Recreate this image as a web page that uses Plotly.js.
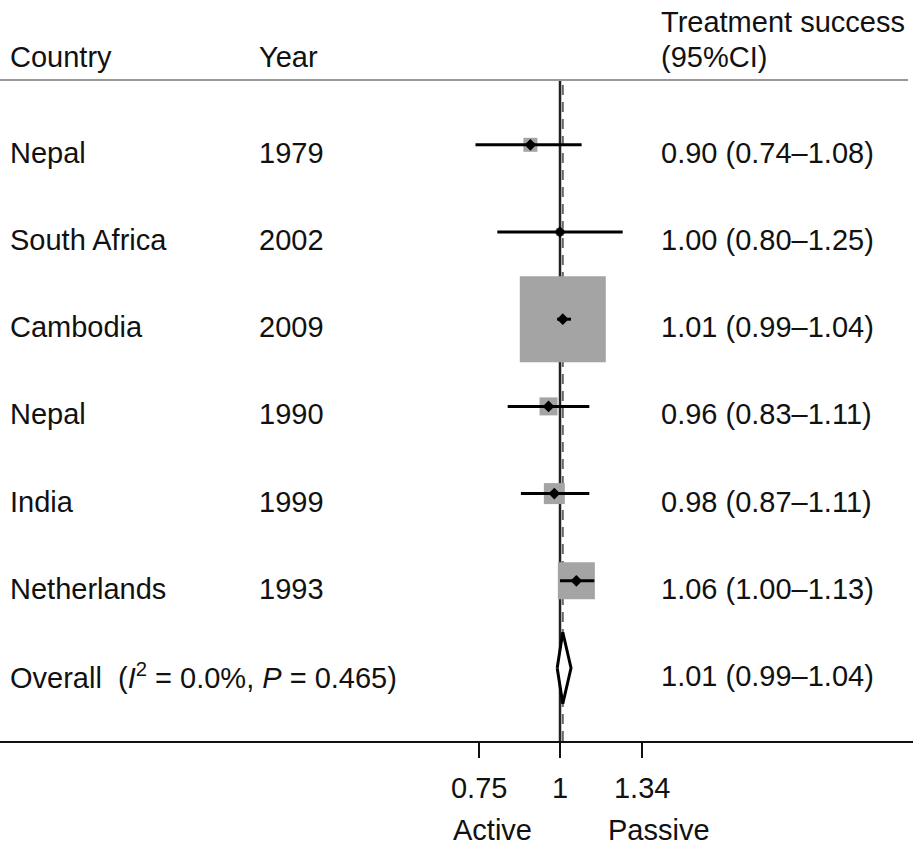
<!DOCTYPE html>
<html>
<head>
<meta charset="utf-8">
<script src="https://cdn.plot.ly/plotly-3.0.1.min.js"></script>
<style>html,body{margin:0;padding:0;background:#fff;}#chart{width:913px;height:851px;}</style>
</head>
<body>
<div id="chart"></div>
<script>
// ---- data ----
var countries = ["Nepal", "South Africa", "Cambodia", "Nepal", "India", "Netherlands"];
var years = ["1979", "2002", "2009", "1990", "1999", "1993"];
var estimates = [0.90, 1.00, 1.01, 0.96, 0.98, 1.06];
var lower = [0.74, 0.80, 0.99, 0.83, 0.87, 1.00];
var upper = [1.08, 1.25, 1.04, 1.11, 1.11, 1.13];
var weightBox = [14, 8, 86, 18, 21, 37];   // box side (px)
var ciText = ["0.90 (0.74\u20131.08)", "1.00 (0.80\u20131.25)", "1.01 (0.99\u20131.04)",
              "0.96 (0.83\u20131.11)", "0.98 (0.87\u20131.11)", "1.06 (1.00\u20131.13)"];
var overallEst = 1.01, overallLo = 0.99, overallHi = 1.04;
var overallLabel = "Overall\u00a0\u00a0(<i>I</i><sup>2</sup> = 0.0%, <i>P</i> = 0.465)";
var overallText = "1.01 (0.99\u20131.04)";
var xTicks = [0.75, 1, 1.34];
var xTickText = ["0.75", "1", "1.34"];

// ---- layout helpers ----
var n = countries.length;
var rowY = countries.map(function(_, i){ return n + 1 - i; }); // 7..2
var overallY = 1;
var W = 913;
function px(x){ return x / W; }
var FONT = "Liberation Sans, Arial, sans-serif";
var FS = 29;

// CI segments
var ciX = [], ciY = [];
for (var i = 0; i < n; i++) {
  ciX.push(lower[i], upper[i], null);
  ciY.push(rowY[i], rowY[i], null);
}

var traces = [
  { type: "scatter", mode: "markers", x: estimates, y: rowY,
    marker: { symbol: "square", size: weightBox, color: "rgb(164,164,164)", opacity: 1, line: { width: 0 } },
    hoverinfo: "skip", showlegend: false, cliponaxis: false },
  { type: "scatter", mode: "lines", x: ciX, y: ciY,
    line: { color: "#000", width: 3 }, hoverinfo: "skip", showlegend: false, cliponaxis: false },
  { type: "scatter", mode: "markers", x: estimates, y: rowY,
    marker: { symbol: "diamond", size: 9, color: "#000", opacity: 1 },
    hoverinfo: "skip", showlegend: false, cliponaxis: false },
  { type: "scatter", mode: "lines",
    x: [overallLo, overallEst, overallHi, overallEst, overallLo],
    y: [overallY, overallY + 0.41, overallY, overallY - 0.41, overallY],
    fill: "toself", fillcolor: "#fff", line: { color: "#000", width: 3 },
    hoverinfo: "skip", showlegend: false, cliponaxis: false }
];

var annotations = [];
function addText(text, xpix, y, yref, yshift) {
  annotations.push({ text: text, x: px(xpix), xref: "paper", xanchor: "left",
    y: y, yref: yref, yanchor: "middle", yshift: yshift || 0, showarrow: false,
    font: { family: FONT, size: FS, color: "#111" } });
}
for (var i = 0; i < n; i++) {
  addText(countries[i], 8, rowY[i], "y", -8);
  addText(years[i], 257, rowY[i], "y", -8);
  addText(ciText[i], 659, rowY[i], "y", -8);
}
addText(overallLabel, 8, overallY, "y", -8);
addText(overallText, 659, overallY, "y", -8);

// header (paper coords; plot spans pixel rows 80..741)
function py(p){ return (741 - p) / 661; }
addText("Country", 8, py(57), "paper", 0);
addText("Year", 257, py(57), "paper", 0);
addText("Treatment success", 659, py(22), "paper", 0);
addText("(95%CI)", 659, py(57), "paper", 0);
// axis side labels
annotations.push({ text: "Active", x: px(492), xref: "paper", xanchor: "center",
  y: py(830), yref: "paper", yanchor: "middle", showarrow: false,
  font: { family: FONT, size: FS, color: "#111" } });
annotations.push({ text: "Passive", x: px(659), xref: "paper", xanchor: "center",
  y: py(830), yref: "paper", yanchor: "middle", showarrow: false,
  font: { family: FONT, size: FS, color: "#111" } });

var shapes = [
  { type: "line", xref: "x", x0: 1, x1: 1, yref: "paper", y0: 0, y1: 1,
    line: { color: "#222", width: 2.5 }, layer: "below" },
  { type: "line", xref: "x", x0: overallEst, x1: overallEst, yref: "paper", y0: 0, y1: 1,
    line: { color: "#666", width: 2, dash: "10px,7px" }, layer: "below" },
  { type: "line", xref: "paper", x0: 0, x1: 908 / W, yref: "paper", y0: 1.0, y1: 1.0,
    line: { color: "#999", width: 2 }, layer: "below" }
];

// x scale: 1 at px 560, 646.6 px per decade
var pxPerDec = 646.6;
var xr = [-560 / pxPerDec, (W - 560) / pxPerDec];
// y scale: rows 87.2 px apart, overall at px 668
var rowPx = 87.2;
var ymin = overallY - (741 - 668) / rowPx;
var yr = [ymin, ymin + 661 / rowPx];

var layout = {
  width: 913, height: 851,
  margin: { l: 0, r: 0, t: 80, b: 110, pad: 0 },
  paper_bgcolor: "#fff", plot_bgcolor: "#fff",
  showlegend: false,
  xaxis: { type: "log", range: xr, showgrid: false, zeroline: false,
    showline: true, linecolor: "#111", linewidth: 2,
    tickmode: "array", tickvals: xTicks, ticktext: xTickText,
    ticks: "outside", ticklen: 15, tickwidth: 2, tickcolor: "#111",
    ticklabelstandoff: 5,
    tickfont: { family: FONT, size: FS, color: "#111" }, fixedrange: true },
  yaxis: { range: yr, visible: false, showgrid: false, zeroline: false, fixedrange: true },
  annotations: annotations,
  shapes: shapes
};

Plotly.newPlot("chart", traces, layout, { staticPlot: true, displayModeBar: false });
</script>
</body>
</html>
